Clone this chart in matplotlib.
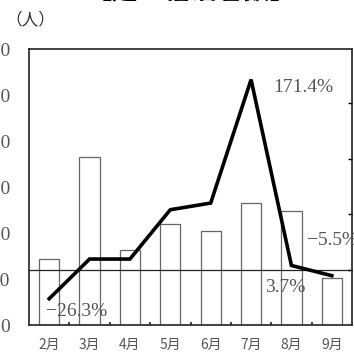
import matplotlib.pyplot as plt
import numpy as np

plt.rcParams['font.family'] = ['Liberation Serif', 'Noto Sans CJK JP']

# monthly counts (bars, left axis) and year-on-year change in % (line, right axis)
months = ['2月', '3月', '4月', '5月', '6月', '7月', '8月', '9月']
counts = [72, 183, 82, 110, 102, 133, 124, 51]
yoy = [-26.3, 9.5, 9.5, 54, 60, 171.4, 3.7, -5.5]
count_ticks = [0, 50, 100, 150, 200, 250, 300]
pct_ticks = [0, 50, 100, 150]

W, H = 354, 352
fig = plt.figure(figsize=(W / 100, H / 100), dpi=100)
ax = fig.add_axes([29 / W, 1 - 325 / H, 323 / W, 276 / H])

x = np.arange(len(months))
ax.bar(x, counts, width=0.5, color='white', edgecolor='#666666', linewidth=0.9, zorder=2)
ax.set_xlim(-0.5, len(months) - 0.5)
ax.set_ylim(0, 300)
ax.set_yticks(count_ticks)
ax.set_yticklabels([str(v) for v in count_ticks])
ax.tick_params(axis='y', length=0, pad=13.5, labelsize=14, labelcolor='#555555')
ax.set_xticks(x)
ax.set_xticklabels(months, family='Noto Sans CJK JP', fontsize=10, color='#555555')
ax.tick_params(axis='x', length=0, pad=9)
ax.set_xticks(x[:-1] + 0.5, minor=True)
ax.tick_params(axis='x', which='minor', direction='in', length=2.5, width=1.2, color='#222222')
for s in ax.spines.values():
    s.set_linewidth(1.2)
    s.set_color('#222222')

ax2 = ax.twinx()
ax2.set_ylim(-50, 199)
ax2.set_yticks(pct_ticks)
ax2.tick_params(axis='y', direction='in', length=3, width=1.0, labelright=False)
ax2.axhline(0, color='#222222', linewidth=0.9, zorder=1)
ax2.plot(x, yoy, color='black', linewidth=2.6, solid_joinstyle='miter', zorder=3)
for s in ax2.spines.values():
    s.set_visible(False)

# percentage labels beside the points
lbl = dict(fontsize=14, color='#555555', va='center', ha='left')
ax2.text(-0.07, -37.4, '−26.3%', **lbl)
ax2.text(5.54, 164, '171.4%', **lbl)
ax2.text(6.38, 25.8, '−5.5%', clip_on=False, **lbl)
ax2.text(5.34, -16.6, '3.7%', **lbl)

fig.text(30 / W, 1 - 20 / H, '（人）', family='Noto Sans CJK JP', fontsize=12,
         ha='center', va='center', color='#333333')
# title sits mostly above the top edge; anchor kept inside the canvas
fig.text(191 / W, 1 - 5 / H, '【延べ宿泊者数】', family='Noto Sans CJK JP',
         fontsize=19, fontweight='bold', ha='center', va='bottom')

fig.savefig('out.png', dpi=100)
